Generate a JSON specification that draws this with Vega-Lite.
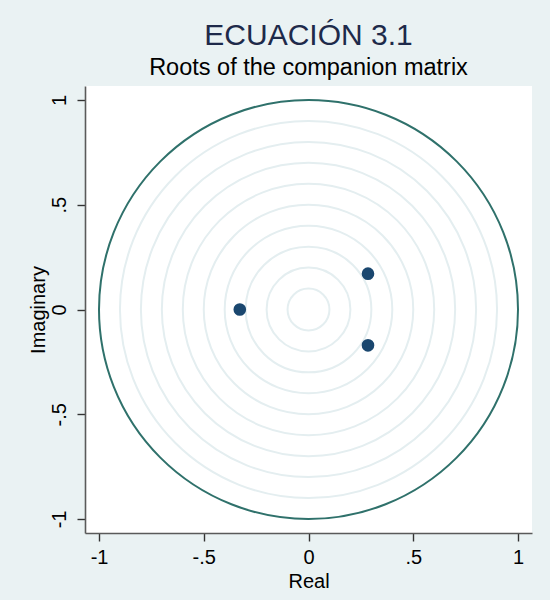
{
  "$schema": "https://vega.github.io/schema/vega-lite/v6.json",
  "width": 447,
  "height": 447,
  "autosize": {"type": "none"},
  "padding": {"left": 85, "top": 86, "right": 18, "bottom": 67},
  "background": "#eaf2f3",
  "config": {
    "view": {"stroke": null, "fill": "white"},
    "font": "Liberation Sans",
    "axis": {
      "grid": false,
      "domainColor": "#5a5a5a",
      "domainWidth": 1.6,
      "tickColor": "#333333",
      "tickWidth": 1.4,
      "tickSize": 8,
      "labelFontSize": 20,
      "labelColor": "#000000",
      "labelFont": "Liberation Sans",
      "titleFont": "Liberation Sans",
      "titleFontSize": 20,
      "titleFontWeight": "normal",
      "titleColor": "#000000"
    }
  },
  "title": {
    "text": "ECUACIÓN 3.1",
    "subtitle": "Roots of the companion matrix",
    "font": "Liberation Sans",
    "subtitleFont": "Liberation Sans",
    "fontSize": 30,
    "fontWeight": "normal",
    "color": "#1e2a4a",
    "subtitleFontSize": 23.5,
    "subtitleColor": "#000000",
    "anchor": "middle",
    "offset": 7,
    "subtitlePadding": 5
  },
  "datasets": {
    "grid": [{"r": 0.1}, {"r": 0.2}, {"r": 0.3}, {"r": 0.4}, {"r": 0.5}, {"r": 0.6}, {"r": 0.7}, {"r": 0.8}, {"r": 0.9}],
    "unit": [{"r": 1}],
    "roots": [
      {"real": -0.328, "imag": 0},
      {"real": 0.284, "imag": 0.171},
      {"real": 0.284, "imag": -0.171}
    ]
  },
  "layer": [
    {
      "data": {"name": "grid"},
      "mark": {"type": "point", "shape": "circle", "filled": false, "color": "#e4eef0", "strokeWidth": 2, "opacity": 1},
      "encoding": {
        "x": {"datum": 0, "type": "quantitative"},
        "y": {"datum": 0, "type": "quantitative"},
        "size": {"field": "r", "type": "quantitative", "scale": {"type": "pow", "exponent": 2, "domain": [0, 1], "range": [0, 175561]}, "legend": null}
      }
    },
    {
      "data": {"name": "unit"},
      "mark": {"type": "point", "shape": "circle", "filled": false, "color": "#2f716b", "strokeWidth": 2, "opacity": 1},
      "encoding": {
        "x": {"datum": 0, "type": "quantitative"},
        "y": {"datum": 0, "type": "quantitative"},
        "size": {"field": "r", "type": "quantitative", "legend": null}
      }
    },
    {
      "data": {"name": "roots"},
      "mark": {"type": "point", "shape": "circle", "filled": true, "color": "#1a476f", "size": 160, "opacity": 1},
      "encoding": {
        "x": {
          "field": "real", "type": "quantitative", "title": "Real",
          "scale": {"domain": [-1.067, 1.067], "nice": false, "zero": false},
          "axis": {
            "values": [-1, -0.5, 0, 0.5, 1],
            "labelExpr": "datum.value == -0.5 ? '-.5' : datum.value == 0.5 ? '.5' : datum.value == -1 ? '-1' : datum.value == 1 ? '1' : '0'",
            "labelPadding": 6,
            "titlePadding": 4
          }
        },
        "y": {
          "field": "imag", "type": "quantitative", "title": "Imaginary",
          "scale": {"domain": [-1.067, 1.067], "nice": false, "zero": false},
          "axis": {
            "values": [-1, -0.5, 0, 0.5, 1],
            "labelExpr": "datum.value == -0.5 ? '-.5' : datum.value == 0.5 ? '.5' : datum.value == -1 ? '-1' : datum.value == 1 ? '1' : '0'",
            "labelAngle": -90,
            "labelAlign": "center",
            "labelBaseline": "bottom",
            "labelPadding": 8,
            "titlePadding": 1
          }
        }
      }
    }
  ]
}
